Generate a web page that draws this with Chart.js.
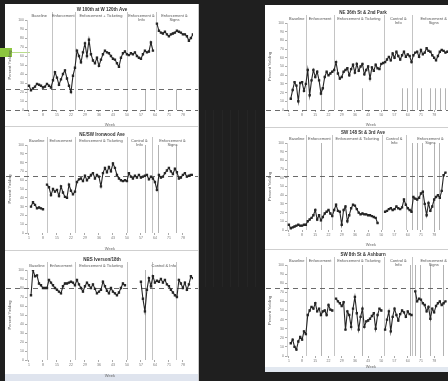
<!DOCTYPE html>
<html>
<head>
<meta charset="utf-8">
<script src="https://cdn.jsdelivr.net/npm/chart.js@4.4.0/dist/chart.umd.min.js"></script>
<style>
  html, body { margin: 0; padding: 0; width: 448px; height: 381px; overflow: hidden; background: #1f1f1f; }
  .paper { position: absolute; background: #fff; }
  .sep { position: absolute; height: 1px; background: #cfcfcf; }
  .stripe { position: absolute; width: 1px; background: #252525; }
  canvas { position: absolute; }
</style>
</head>
<body>
<div class="paper" style="left:5px; top:4px; width:193px; height:377px; border-right:1px solid #c8c8c8;"></div>
<div class="paper" style="left:5px; top:374px; width:193px; height:7px; background:#dfe4ee;"></div>
<div class="paper" style="left:265px; top:5px; width:190px; height:367px;"></div>
<div class="paper" style="left:265px; top:367px; width:190px; height:5px; background:#e2e8f0;"></div>
<div class="sep" style="left:5px; top:126px; width:193px;"></div>
<div class="sep" style="left:5px; top:250px; width:193px;"></div>
<div class="sep" style="left:265px; top:127px; width:190px;"></div>
<div class="sep" style="left:265px; top:249px; width:190px;"></div>
<div id="gap"></div>
<div style="position:absolute; left:0; top:48px; width:12px; height:9px; background:#8cc63f;"></div>
<div style="position:absolute; left:12px; top:52px; width:18px; height:1px; background:#b9dd8a;"></div>

<canvas id="l1" width="192" height="122" style="left:6px; top:5px;"></canvas>
<canvas id="l2" width="192" height="124" style="left:6px; top:127px;"></canvas>
<canvas id="l3" width="192" height="127" style="left:6px; top:251px;"></canvas>
<canvas id="r1" width="194" height="122" style="left:266px; top:5px;"></canvas>
<canvas id="r2" width="194" height="120" style="left:266px; top:127px;"></canvas>
<canvas id="r3" width="194" height="118" style="left:266px; top:251px;"></canvas>

<script>
// week tick labels, shared by every panel
const weekTicks = [1, 8, 15, 22, 29, 36, 43, 50, 57, 64, 71, 78];
const phaseNames = [['Baseline'], ['Enforcement'], ['Enforcement + Ticketing'], ['Enforcement &', 'Info'], ['Enforcement &', 'Signs']];
const phaseNamesCtl = [['Baseline'], ['Enforcement'], ['Enforcement & Ticketing'], ['Control &', 'Info'], ['Enforcement &', 'Signs']];

// percent yielding per week, starting at week 1 (null = no observation)
const l1Values = [27, 22, 24, 26, 29, 28, 27, 25, 26, 29, 27, 25,
  33, 42, 36, 28, 34, 40, 44, 35, 27, 20, 38, 47,
  66, 60, 53, 64, 74, 60, 78, 62, 55, 52, 58, 49, 56, 62, 66, 64, 63, 60, 57, 56, 52, 48, 58, 63, 65, 62,
  61, 63, 62, 64, 60, 58, 57, 62, 66, 64, 65, 75, 66, null,
  96, 88, 86, 85, 87, 84, 82, 84, 85, 86, 88, 87, 86, 84, 84, 82, 77, 80, 84];
const l1Bounds = [12.3, 24, 50, 64.5];
const l1Extra = [59, 74.4];

const l2Values = [null, 30, 35, 32, 28, 29, 28, 27, null,
  55, 52, 43, 50, 47, 49, 42, 53, 46, 41, 40, 55, 48, 44, 47,
  58, 61, 62, 59, 65, 60, 63, 66, 68, 62, 66, 64, 53, 68, 74, 69, 75, 70, 79, 74, 66, 62, 60, 59, 60, 59,
  68, 64, 62, 65, 63, 66, 63, 64, 65, 66, 61, 64, 62, 58, 49,
  66, 63, 64, 68, 71, 74, 70, 67, 73, 69, 62, 63, 66, 68, 64, 65, 66, 66];
const l2Bounds = [9.8, 24, 50, 62.5];
const l2Extra = [59, 65.5, 74.4];

const l3Values = [null, 72, 100, 93, 94, 85, 83, 80, 80,
  80, 89, 86, 83, 80, 78, 76, 74, 82, 85, 85, 86, 87, 86, 83,
  89, 84, 80, 76, 82, 86, 83, 80, 84, 79, 74, 76, 78, 87, 82, 77, 74, 80, 76, 74, 72, 75, 80, 85, 83,
  null, null, null, null, null, null, null,
  87, 68, 54, 78, 91, 82, 93, 86, 88, 87, 90, 86, 89, 84, 82, 78, 75, 72,
  70, 89, 85, 80, 86, 78, 84, 93, 91];
const l3Bounds = [10, 24, 50, 62.5, 74.4];
const l3Names = [['Baseline'], ['Enforcement'], ['Enforcement & Ticketing'], [''], ['Control & Info'], ['']];
const l3Extra = [59];

const r1Values = [null, 13, 23, 32, 28, 10, 31, 32, 22, 30,
  46, 17, 34, 46, 38, 44, 34, 19, 25, 38, 44, 40, 42, 44, 46,
  55, 42, 36, 38, 44, 46, 48, 40, 47, 52, 43, 53, 45, 50, 53, 41, 46, 50, 36, 49, 45, 52, 48, 47, 53, 54,
  55, 58, 61, 57, 65, 60, 67, 62, 58, 63, 67, 61, 64, 62, 55,
  63, 66, 67, 61, 69, 64, 66, 71, 68, 67, 63, 60, 57, 62, 67, 69, 68, 66, 67, 69, 66];
const r1Bounds = [10.3, 24.7, 51.5, 66.5];
const r1Extra = [18, 39.5, 60.8, 63.4, 69, 71.1, 75.8, 78.4, 80.9, 83.5];

const r2Values = [6, 2, 3, 4, 5, 6, 5, 5, 6, 6,
  10, 12, 14, 17, 23, 12, 17, 11, 15, 19, 21, 23, 19, 16,
  23, 29, 22, 21, 6, 23, 27, 10, 17, 25, 29, 28, 24, 20, 18, 19, 18, 18, 17, 17, 16, 15, 14, 8,
  null, null, null,
  21, 22, 24, 25, 23, 24, 27, 25, 24, 26, 35, 29, 25, 23, 21,
  38, 36, 35, 37, 42, 44, 30, 17, 31, 22, 27, 35, 38, 40, 37, 45, 63, 66];
const r2Bounds = [10.3, 24, 50.5, 63];
const r2Extra = [18, 66.5, 68.7, 71.3, 78, 80.8];

const r3Values = [null, 14, 18, 10, 7, 16, 21, 18, 27, 24,
  45, 50, 54, 52, 58, 49, 52, 45, 49, 50, 45, 56, 51, 50,
  null,
  63, 60, 58, 55, 59, 29, 49, 45, 32, 52, 65, 47, 29, 43, 52, 32, 38, 39, 41, 44, 47, 30, 45, 52, 50,
  null,
  29, 40, 49, 27, 43, 52, 45, 39, 46, 50, 48, 43, 49, 46, 45,
  null,
  71, 60, 63, 62, 58, 56, 49, 54, 41, 52, 48, 55, 58, 60, 56, 58, 60];
const r3Bounds = [10.3, 24.7, 51.5, 66.5];
const r3Extra = [18, 39.5, 65.3, 67.9, 70.4, 75.6, 82.5];

const FONT = "'Liberation Sans', Arial, sans-serif";

// phase dividers, dashed criterion lines, title and phase names
const phasePlugin = {
  id: 'phases',
  beforeDatasetsDraw(chart, args, opts) {
    const { ctx, chartArea, scales } = chart;
    ctx.save();
    ctx.lineWidth = 0.8;
    ctx.strokeStyle = '#b5b5b5';
    opts.bounds.forEach(w => {
      const x = Math.round(scales.x.getPixelForValue(w)) + 0.5;
      ctx.beginPath();
      ctx.moveTo(x, chartArea.top - 8);
      ctx.lineTo(x, chartArea.bottom);
      ctx.stroke();
    });
    ctx.strokeStyle = '#a0a0a0';
    const top = scales.y.getPixelForValue(opts.extraTop);
    opts.extra.forEach(w => {
      const x = Math.round(scales.x.getPixelForValue(w)) + 0.5;
      ctx.beginPath();
      ctx.moveTo(x, top);
      ctx.lineTo(x, chartArea.bottom);
      ctx.stroke();
    });
    ctx.strokeStyle = '#5a5a5a';
    ctx.lineWidth = 0.9;
    ctx.setLineDash([5, 4]);
    opts.refs.forEach(v => {
      const y = Math.round(scales.y.getPixelForValue(v)) + 0.5;
      ctx.beginPath();
      ctx.moveTo(0, y);
      ctx.lineTo(chart.width, y);
      ctx.stroke();
    });
    ctx.restore();
  },
  afterDraw(chart, args, opts) {
    const { ctx, chartArea, scales } = chart;
    ctx.save();
    ctx.fillStyle = '#333';
    ctx.textAlign = 'center';
    ctx.textBaseline = 'middle';
    ctx.font = 'bold 4.5px ' + FONT;
    ctx.fillText(opts.title, chart.width / 2, chartArea.top - 10);
    ctx.font = '4px ' + FONT;
    ctx.fillStyle = '#555';
    const edges = [scales.x.min, ...opts.bounds, scales.x.max];
    opts.names.forEach((lines, i) => {
      if (i >= edges.length - 1) return;
      const x = scales.x.getPixelForValue((edges[i] + edges[i + 1]) / 2);
      lines.forEach((t, j) => ctx.fillText(t, x, chartArea.top - 4 + j * 4));
    });
    ctx.restore();
  }
};

function makePanel(id, values, cfg) {
  const points = values.map((v, i) => ({ x: i + 1, y: v }));
  new Chart(document.getElementById(id), {
    type: 'line',
    data: {
      datasets: [{
        data: points,
        borderColor: '#262626',
        backgroundColor: '#262626',
        borderWidth: 1.1,
        pointRadius: 0.9,
        pointStyle: 'rect',
        spanGaps: false,
        tension: 0
      }]
    },
    options: {
      responsive: false,
      animation: false,
      devicePixelRatio: 1,
      layout: { padding: { top: cfg.top, right: cfg.right, left: 0, bottom: 0 } },
      scales: {
        x: {
          type: 'linear',
          min: 0,
          max: cfg.maxWeek,
          afterBuildTicks: s => { s.ticks = weekTicks.map(v => ({ value: v })); },
          afterFit: s => { s.height = cfg.xHeight; },
          ticks: { font: { size: 3.5, family: FONT }, color: '#777', padding: 1, maxRotation: 0, autoSkip: false },
          grid: { display: true, drawOnChartArea: false, tickLength: 2, color: '#aaa' },
          border: { display: false },
          title: { display: true, text: 'Week', font: { size: 4, family: FONT }, color: '#666', padding: 0 }
        },
        y: {
          min: 0,
          max: 100,
          afterFit: s => { s.width = 21; },
          ticks: { stepSize: 10, font: { size: 3.5, family: FONT }, color: '#777', padding: 1 },
          grid: { display: true, drawOnChartArea: false, tickLength: 2, color: '#aaa' },
          border: { display: true, color: '#c4c4c4', width: 0.8 },
          title: { display: true, text: 'Percent Yielding', font: { size: 4, family: FONT }, color: '#555', padding: 1 }
        }
      },
      plugins: {
        legend: { display: false },
        tooltip: { enabled: false },
        phases: {
          title: cfg.title,
          names: cfg.names,
          bounds: cfg.bounds,
          extra: cfg.extra,
          extraTop: cfg.extraTop,
          refs: cfg.refs
        }
      }
    },
    plugins: [phasePlugin]
  });
}

makePanel('l1', l1Values, { title: 'W 100th at W 120th Ave', names: phaseNames, bounds: l1Bounds, extra: l1Extra, extraTop: 23,
  refs: [23, 0], top: 15, right: 2, xHeight: 17, maxWeek: 83 });
makePanel('l2', l2Values, { title: 'NE/SW Ironwood Ave', names: phaseNamesCtl, bounds: l2Bounds, extra: l2Extra, extraTop: 100,
  refs: [65], top: 18, right: 2, xHeight: 18, maxWeek: 83 });
makePanel('l3', l3Values, { title: 'NBS Iverson/18th', names: l3Names, bounds: l3Bounds, extra: l3Extra, extraTop: 100,
  refs: [80], top: 19, right: 2, xHeight: 18, maxWeek: 83 });
makePanel('r1', r1Values, { title: 'NE 36th St & 2nd Park', names: phaseNamesCtl, bounds: r1Bounds, extra: r1Extra, extraTop: 25,
  refs: [0], top: 18, right: 0, xHeight: 17, maxWeek: 89 });
makePanel('r2', r2Values, { title: 'SW 148 St & 3rd Ave', names: phaseNamesCtl, bounds: r2Bounds, extra: r2Extra, extraTop: 100,
  refs: [62], top: 16, right: 0, xHeight: 17, maxWeek: 89 });
makePanel('r3', r3Values, { title: 'SW 8th St & Ashburn', names: phaseNamesCtl, bounds: r3Bounds, extra: r3Extra, extraTop: 100,
  refs: [75], top: 14, right: 0, xHeight: 13, maxWeek: 89 });

// faint stripes in the dark gap between the two sheets
const gap = document.getElementById('gap');
[205, 213, 222, 230, 238, 247, 255].forEach(x => {
  const d = document.createElement('div');
  d.className = 'stripe';
  d.style.left = x + 'px';
  d.style.top = '110px';
  d.style.height = '177px';
  gap.appendChild(d);
});
</script>
</body>
</html>
